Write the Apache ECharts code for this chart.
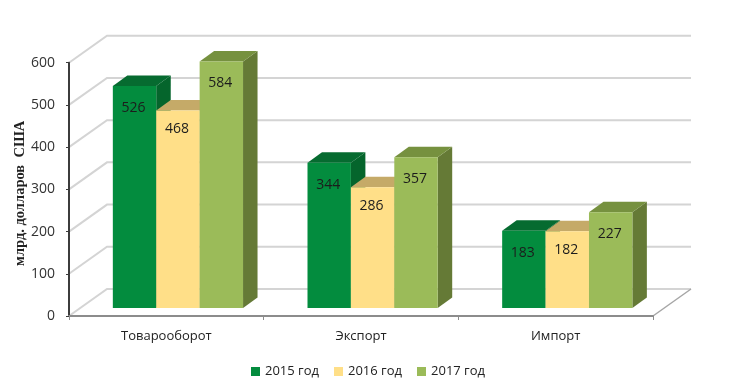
<!DOCTYPE html>
<html>
<head>
<meta charset="utf-8">
<style>
  html, body { margin: 0; padding: 0; background: #fff; }
  #chart { width: 748px; height: 386px; }
</style>
<script src="https://cdn.jsdelivr.net/npm/echarts@6/dist/echarts.min.js"></script>
</head>
<body>
<div id="chart"></div>
<script>
const categories = ['Товарооборот', 'Экспорт', 'Импорт']
const values2015 = [526, 344, 183]
const values2016 = [468, 286, 182]
const values2017 = [584, 357, 227]
const yTicks = [0, 100, 200, 300, 400, 500, 600]

// wall depth and bar placement, px
const WALL_DX = 38
const WALL_DY = -27
const BAR_W = 43.4
const BAR_DX = 14.5
const BAR_DY = -10.5
const BAR_SHIFT = 11.6
const BAR_LIFT = 8

const chart = echarts.init(document.getElementById('chart'), undefined, { renderer: 'canvas' })

function renderWall(params, api) {
  const p = api.coord([0, api.value(1)])
  const cs = params.coordSys
  const x0 = cs.x
  const x1 = cs.x + cs.width
  const y = p[1]
  const lineStyle = { stroke: '#d4d4d4', lineWidth: 2, fill: null }
  const children = [{
    type: 'polyline',
    shape: { points: [[x0, y], [x0 + WALL_DX, y + WALL_DY], [x1 + WALL_DX, y + WALL_DY]] },
    style: lineStyle,
  }]
  if (api.value(1) === 0) {
    children.push({
      type: 'line',
      shape: { x1: x1, y1: y, x2: x1 + WALL_DX, y2: y + WALL_DY },
      style: { stroke: '#a6a6a6', lineWidth: 1.5 },
    })
  }
  return { type: 'group', children }
}

function bar3d(idx, colors, labelGap) {
  return function (params, api) {
    const top = api.coord([api.value(0), api.value(1)])
    const base = api.coord([api.value(0), 0])
    const x0 = top[0] + BAR_SHIFT + (idx - 1.5) * BAR_W
    const x1 = x0 + BAR_W
    const yTop = top[1] - BAR_LIFT
    const yb = base[1] - BAR_LIFT
    return {
      type: 'group',
      children: [
        {
          type: 'polygon',
          shape: { points: [[x1, yTop], [x1 + BAR_DX, yTop + BAR_DY], [x1 + BAR_DX, yb + BAR_DY], [x1, yb]] },
          style: { fill: colors.side },
        },
        {
          type: 'polygon',
          shape: { points: [[x0, yTop], [x0 + BAR_DX, yTop + BAR_DY], [x1 + BAR_DX, yTop + BAR_DY], [x1, yTop]] },
          style: { fill: colors.top },
        },
        {
          type: 'rect',
          shape: { x: x0, y: yTop, width: BAR_W, height: yb - yTop },
          style: { fill: colors.front },
        },
        {
          type: 'text',
          style: {
            x: (x0 + x1) / 2 - 1,
            y: yTop + labelGap,
            text: String(api.value(1)),
            align: 'center',
            verticalAlign: 'middle',
            fill: '#1c1c1c',
            font: '14px "Open Sans", sans-serif',
          },
        },
      ],
    }
  }
}

function barSeries(name, values, idx, colors, labelGap) {
  return {
    type: 'custom',
    name,
    renderItem: bar3d(idx, colors, labelGap),
    itemStyle: { color: colors.front },
    encode: { x: 0, y: 1 },
    data: values.map((v, i) => [i, v]),
    z: 3 + idx,
  }
}

chart.setOption({
  animation: false,
  backgroundColor: '#fff',
  legend: {
    data: ['2015 год', '2016 год', '2017 год'],
    left: 246,
    top: 360,
    itemWidth: 9,
    itemHeight: 9,
    itemGap: 15,
    icon: 'rect',
    textStyle: { fontFamily: '"Open Sans", sans-serif', fontSize: 13, color: '#222' },
  },
  grid: { left: 69, right: 95, top: 62.7, bottom: 70, outerBoundsMode: 'none' },
  xAxis: {
    type: 'category',
    data: categories,
    axisLine: { lineStyle: { color: '#8c8c8c', width: 2 } },
    axisTick: { show: true, alignWithLabel: false, length: 4, lineStyle: { color: '#8c8c8c' } },
    axisLabel: { fontFamily: '"Open Sans", sans-serif', fontSize: 13, color: '#222', margin: 14 },
    z: 2,
  },
  yAxis: {
    type: 'value',
    min: 0,
    max: 600,
    interval: 100,
    name: 'млрд. долларов  США',
    nameLocation: 'middle',
    nameGap: 41,
    nameMoveOverlap: false,
    nameRotate: 90,
    nameTextStyle: { fontFamily: '"Liberation Serif", serif', fontWeight: 'bold', fontSize: 14.5, color: '#222', padding: [0, 8, 0, 0] },
    axisLine: { show: true, lineStyle: { color: '#3c3c3c', width: 2 } },
    axisTick: { show: true, length: 3, lineStyle: { color: '#3c3c3c' } },
    axisLabel: { fontFamily: '"Open Sans", sans-serif', fontSize: 14, color: '#333', margin: 14 },
    splitLine: { show: false },
    z: 2,
  },
  series: [
    {
      type: 'custom',
      name: 'wall',
      renderItem: renderWall,
      encode: { x: 0, y: 1 },
      data: yTicks.map(t => [0, t]),
      silent: true,
      z: 1,
    },
    barSeries('2015 год', values2015, 0, { front: '#038c3e', side: '#05652c', top: '#066b30' }, 22),
    barSeries('2016 год', values2016, 1, { front: '#ffdf88', side: '#c5aa68', top: '#c5aa68' }, 19),
    barSeries('2017 год', values2017, 2, { front: '#9bbb59', side: '#657a36', top: '#76913f' }, 22),
  ],
})

window.addEventListener('resize', () => chart.resize())
</script>
</body>
</html>
